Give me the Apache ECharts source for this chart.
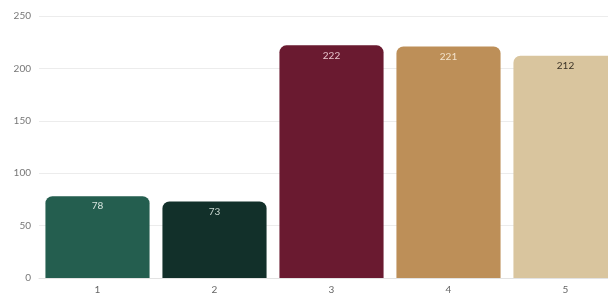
<!DOCTYPE html>
<html><head><meta charset="utf-8">
<script src="https://cdn.jsdelivr.net/npm/echarts@6/dist/echarts.min.js"></script>
<style>html,body{margin:0;padding:0;background:#fff}#c{width:608px;height:300px}</style>
</head><body><div id="c"></div>
<script>
var categories = ['1','2','3','4','5'];
var values = [78, 73, 222, 221, 212];
var barColors = ['#245e4f','#12302a','#6a1a30','#bd8f58','#d9c59e'];
var labelColors = ['#d8e6e0','#c8d6d0','#e8c4cc','#f3e3cc','#3a3226'];

var chart = echarts.init(document.getElementById('c'), null, {renderer:'canvas'});
chart.setOption({
  animation:false,
  grid:{left:39, top:16, right:-16, bottom:22, outerBoundsMode:'none', containLabel:false},
  xAxis:{type:'category', data:categories,
    axisLine:{lineStyle:{color:'#e3e3e3'}}, axisTick:{show:false},
    axisLabel:{color:'#666', fontSize:10, fontFamily:'Lato', margin:7}},
  yAxis:{type:'value', min:0, max:250, interval:50,
    axisLabel:{color:'#777', fontSize:10, fontFamily:'Lato', margin:8},
    splitLine:{lineStyle:{color:'#ececec'}}},
  series:[{type:'bar', barCategoryGap:'11%',
    data: values.map(function(v,i){return {value:v,
      itemStyle:{color:barColors[i], borderRadius:[7,7,0,0]},
      label:{color:labelColors[i]}};}),
    label:{show:true, position:'insideTop', distance:5, fontSize:10, fontFamily:'Lato'}
  }]
});
</script></body></html>
